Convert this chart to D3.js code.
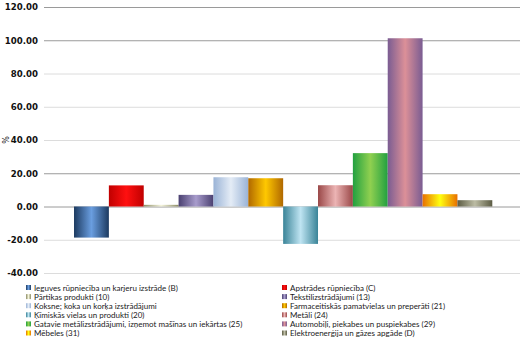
<!DOCTYPE html>
<html><head><meta charset="utf-8">
<script src="https://cdn.jsdelivr.net/npm/d3@7"></script>
<style>
html,body{margin:0;padding:0;background:#fff;}
svg{display:block;}
</style></head>
<body>
<svg id="c" width="524" height="342"></svg>
<script>
const seriesNames = [
  "Ieguves rūpniecība un karjeru izstrāde (B)",
  "Apstrādes rūpniecība (C)",
  "Pārtikas produkti (10)",
  "Tekstilizstrādājumi (13)",
  "Koksne; koka un korķa izstrādājumi",
  "Farmaceitiskās pamatvielas un  preperāti (21)",
  "Ķīmiskās vielas un produkti (20)",
  "Metāli (24)",
  "Gatavie metālizstrādājumi, izņemot mašīnas un iekārtas (25)",
  "Automobiļi, piekabes un puspiekabes (29)",
  "Mēbeles (31)",
  "Elektroenerģija un gāzes apgāde (D)"
];
const seriesValues = [-18.7, 12.7, 1.0, 7.0, 17.6, 17.0, -22.5, 12.8, 32.1, 101.2, 7.4, 3.8];
const edgeColors   = ["#1c3a60","#c00000","#8c8c64","#4a4070","#9ab3d6","#b06800","#3a8498","#9a4848","#22a040","#7a5c92","#e87000","#5c5c44"];
const centerColors = ["#6a9ee0","#ff1010","#f4f4dc","#a89ccc","#e4ecf6","#ffc800","#bfe4f2","#ecb4b4","#90d050","#dc9098","#ffff10","#bcbca4"];
const yTicks = [-40, -20, 0, 20, 40, 60, 80, 100, 120];
const yTickLabels = ["-40.00","-20.00","0.00","20.00","40.00","60.00","80.00","100.00","120.00"];
const gridShade = ["#dcdcdc","#dcdcdc","#9a9a9a","#9a9a9a","#dcdcdc","#dcdcdc","#dcdcdc","#9a9a9a","#9a9a9a"];
const yAxisTitle = "%";

const svg = d3.select("#c");
const plot = {left: 44, right: 520, top: 7, bottom: 273};

const y = d3.scaleLinear().domain([-40, 120]).range([plot.bottom, plot.top]);
const xCat = d3.scaleBand().domain(["all"]).range([plot.left, plot.right]).paddingOuter(0.069).align(0.52);
const x = d3.scaleBand().domain(seriesNames).range([xCat("all"), xCat("all") + xCat.bandwidth()]);

const defs = svg.append("defs");
seriesNames.forEach((s, i) => {
  const g = defs.append("linearGradient").attr("id", "g" + i)
    .attr("x1", "0%").attr("x2", "100%").attr("y1", "0%").attr("y2", "0%");
  g.append("stop").attr("offset", "0%").attr("stop-color", edgeColors[i]);
  g.append("stop").attr("offset", "50%").attr("stop-color", centerColors[i]);
  g.append("stop").attr("offset", "100%").attr("stop-color", edgeColors[i]);
});

const yAxis = d3.axisLeft(y).tickValues(yTicks)
  .tickFormat((d, i) => yTickLabels[i])
  .tickSize(-(plot.right - plot.left)).tickPadding(6);
const ga = svg.append("g").attr("transform", `translate(${plot.left},0)`).call(yAxis);
ga.select(".domain").remove();
ga.selectAll(".tick line").attr("stroke", (d, i) => gridShade[i]).attr("stroke-width", 1);
ga.selectAll(".tick text")
  .attr("font-family", "DejaVu Sans, sans-serif")
  .attr("font-size", "8.6px")
  .attr("font-weight", "600")
  .attr("fill", "#111")
  .attr("x", -6);

svg.append("g").selectAll("rect").data(seriesValues).join("rect")
  .attr("x", (d, i) => x(seriesNames[i]))
  .attr("width", x.bandwidth())
  .attr("y", d => y(Math.max(0, d)))
  .attr("height", d => Math.abs(y(d) - y(0)))
  .attr("fill", (d, i) => `url(#g${i})`);

svg.append("text")
  .attr("transform", `translate(9,${y(40)}) rotate(-90)`)
  .attr("text-anchor", "middle")
  .attr("font-family", "DejaVu Sans, sans-serif")
  .attr("font-size", "8px")
  .attr("fill", "#222")
  .text(yAxisTitle);

const legX = [26, 282];
const legY0 = 288, legDy = 9.1;
const leg = svg.append("g");
seriesNames.forEach((s, i) => {
  const col = i % 2, row = Math.floor(i / 2);
  const gx = legX[col], gy = legY0 + row * legDy;
  leg.append("rect").attr("x", gx).attr("y", gy - 3).attr("width", 5).attr("height", 5)
    .attr("fill", `url(#g${i})`);
  leg.append("text").attr("x", gx + 8).attr("y", gy + 2.5)
    .attr("font-family", "Lato, 'Open Sans', sans-serif")
    .attr("font-size", "8px")
    .attr("fill", "#1a1a1a")
    .text(s);
});
</script>
</body></html>
